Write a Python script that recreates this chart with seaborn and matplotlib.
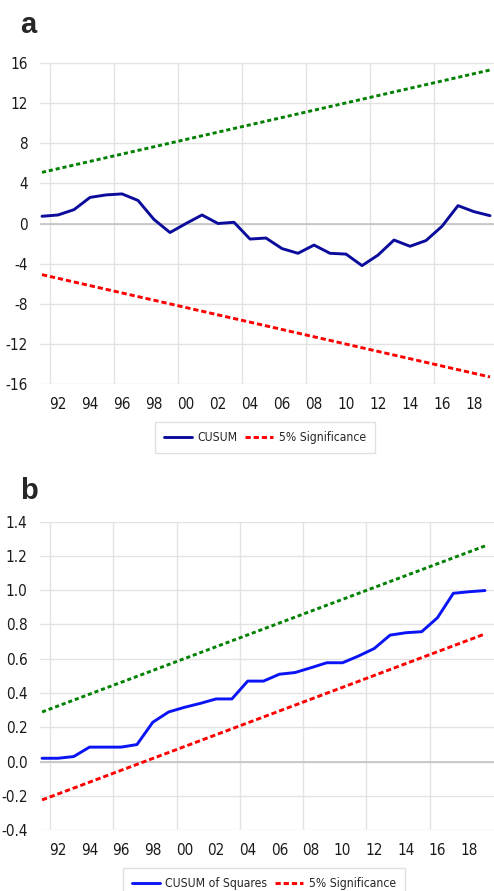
import matplotlib
matplotlib.use("Agg")
import matplotlib.pyplot as plt
from matplotlib import font_manager
import seaborn as sns

# ---------------- data ----------------
years = list(range(1991, 2020))
cusum = [0.72, 0.85, 1.38, 2.6, 2.85, 2.95, 2.3, 0.4, -0.9, 0.0, 0.85, 0.0, 0.12,
         -1.55, -1.45, -2.5, -2.97, -2.15, -2.97, -3.05, -4.2, -3.15, -1.65, -2.27,
         -1.7, -0.28, 1.78, 1.18, 0.78]
sig_years = [1991, 2019]
cusum_upper = [5.1, 15.3]
cusum_lower = [-5.1, -15.3]

cusumsq = [0.02, 0.02, 0.03, 0.085, 0.085, 0.085, 0.10, 0.23, 0.29, 0.317, 0.34,
           0.366, 0.366, 0.47, 0.47, 0.51, 0.52, 0.548, 0.577, 0.577, 0.616, 0.66,
           0.738, 0.752, 0.758, 0.84, 0.982, 0.991, 0.998]
sq_upper = [0.29, 1.258]
sq_lower = [-0.223, 0.745]

xtick_years = [1992, 1994, 1996, 1998, 2000, 2002, 2004, 2006, 2008, 2010, 2012, 2014, 2016, 2018]
xtick_labels = ["92", "94", "96", "98", "00", "02", "04", "06", "08", "10", "12", "14", "16", "18"]
grid_years = [1991.5, 1995.5, 1999.5, 2003.5, 2007.5, 2011.5, 2015.5]

yticks_a = [-16, -12, -8, -4, 0, 4, 8, 12, 16]
yticks_b = [-0.4, -0.2, 0.0, 0.2, 0.4, 0.6, 0.8, 1.0, 1.2, 1.4]

# ---------------- fonts (pick a narrow face if available) ----------------
sns.set_style("white")
entries = font_manager.fontManager.ttflist
names = {f.name for f in entries}
has_dejavu_cond = any(f.name == "DejaVu Sans" and "ondensed" in f.fname for f in entries)
if "Liberation Sans Narrow" in names:
    FAM, STRETCH, TICK_FS, SCALE = "Liberation Sans Narrow", "normal", 12.5, 1.12
elif has_dejavu_cond:
    FAM, STRETCH, TICK_FS, SCALE = "DejaVu Sans", "condensed", 11, 1.0
else:
    FAM, STRETCH, TICK_FS, SCALE = "Liberation Sans", "normal", 11, 0.94
plt.rcParams["font.family"] = [FAM, "DejaVu Sans"]
plt.rcParams["font.stretch"] = STRETCH
plt.rcParams["axes.unicode_minus"] = False

fig = plt.figure(figsize=(4.94, 8.91), dpi=100)
axa = fig.add_axes([40 / 494, 1 - 384 / 891, 454 / 494, 321 / 891])
axb = fig.add_axes([40 / 494, 1 - 830.3 / 891, 454 / 494, 308.7 / 891])

GRID = "#E3E3E3"
ZERO = "#BFBFBF"
GREEN = "#008000"
RED = "#FF0000"
LW = 2.1
LEG_FS = 8.7 * SCALE


def style_axis(ax, yticks, fmt, xlim, ylim):
    for s in ax.spines.values():
        s.set_visible(False)
    ax.set_xlim(*xlim)
    ax.set_ylim(*ylim)
    ax.set_xticks(xtick_years)
    ax.set_xticklabels(xtick_labels)
    ax.set_xticks(grid_years, minor=True)
    ax.set_yticks(yticks)
    ax.set_yticklabels([fmt(v) for v in yticks])
    ax.grid(False)
    ax.xaxis.grid(True, which="minor", color=GRID, lw=1)
    ax.yaxis.grid(True, which="major", color=GRID, lw=1)
    ax.set_axisbelow(True)
    ax.tick_params(axis="both", which="both", length=0, labelsize=TICK_FS, colors="#1a1a1a")
    ax.tick_params(axis="y", pad=9)
    ax.tick_params(axis="x", pad=9)
    ax.axhline(0, color=ZERO, lw=1.1, zorder=1)
    ax.set_xlabel("")
    ax.set_ylabel("")


def add_legend(handles, labels, loc, anchor):
    fig.legend(handles, labels, loc=loc, bbox_to_anchor=anchor, ncol=2,
               frameon=True, fancybox=False, edgecolor="#D9D9D9", fontsize=LEG_FS,
               handlelength=2.3, columnspacing=0.65, handletextpad=0.47,
               borderpad=0.75, borderaxespad=0)


# ---------------- panel a ----------------
sns.lineplot(x=years, y=cusum, ax=axa, color="#0B0B9C", lw=LW, label="CUSUM", zorder=3)
sns.lineplot(x=sig_years, y=cusum_upper, ax=axa, color=GREEN, lw=LW,
             linestyle=(0, (1.4, 1.0)), label="_nolegend_", zorder=3)
sns.lineplot(x=sig_years, y=cusum_lower, ax=axa, color=RED, lw=LW,
             linestyle=(0, (1.8, 1.0)), label="5% Significance", zorder=3)
style_axis(axa, yticks_a, lambda v: f"{v:d}", (1990.875, 2019.25), (-16, 16))
ha, la = axa.get_legend_handles_labels()
axa.get_legend().remove()
add_legend(ha, la, "center", (265 / 494, 1 - 437.7 / 891))

# ---------------- panel b ----------------
sns.lineplot(x=years, y=cusumsq, ax=axb, color="#0A14F5", lw=LW, label="CUSUM of Squares", zorder=3)
sns.lineplot(x=sig_years, y=sq_upper, ax=axb, color=GREEN, lw=LW,
             linestyle=(0, (1.4, 1.0)), label="_nolegend_", zorder=3)
sns.lineplot(x=sig_years, y=sq_lower, ax=axb, color=RED, lw=LW,
             linestyle=(0, (1.8, 1.0)), label="5% Significance", zorder=3)
style_axis(axb, yticks_b, lambda v: f"{v:.1f}", (1990.87, 2019.57), (-0.4, 1.4))
hb, lb = axb.get_legend_handles_labels()
axb.get_legend().remove()
add_legend(hb, lb, "upper center", (264 / 494, 1 - 867.7 / 891))

# ---------------- panel letters ----------------
for letter, ypix in (("a", 33), ("b", 499)):
    fig.text(20 / 494, 1 - ypix / 891, letter, fontsize=21, fontweight="bold",
             family=["Liberation Sans", "DejaVu Sans"], stretch="normal",
             ha="left", va="baseline")

fig.savefig("out.png", dpi=100)
